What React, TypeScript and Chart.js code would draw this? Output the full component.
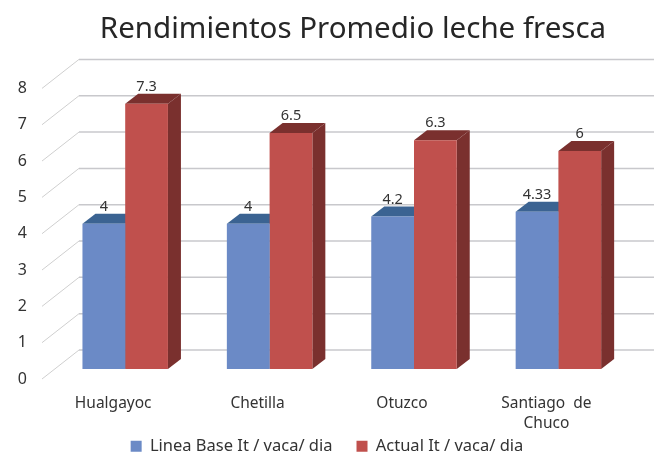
import React, { useEffect, useRef } from "react";
import { Chart, registerables } from "chart.js";

Chart.register(...registerables);

const categories: (string | string[])[] = ["Hualgayoc", "Chetilla", "Otuzco", ["Santiago  de", "Chuco"]];
const lineaBase = [4, 4, 4.2, 4.33];
const actual = [7.3, 6.5, 6.3, 6];
const seriesNames = ["Linea Base It / vaca/ dia", "Actual It / vaca/ dia"];
const title = "Rendimientos Promedio leche fresca";

const FONT = "'Noto Sans', sans-serif";
const TEXT = "#333333";
const FRONT = ["#6B8AC6", "#C0504D"];
const TOP = ["#3B6392", "#7A302E"];
const SIDE = ["#3B6392", "#7A302E"];
const GRID = "#C8C8CC";
const DIAG = "#CFCFCF";
const WALL_DX = 37;
const WALL_DY = 29;
const BAR_DX = 13;
const BAR_DY = 10;
const LEGEND_GAP = 24;

const poly = (ctx: CanvasRenderingContext2D, pts: number[][], fill: string) => {
  ctx.beginPath();
  pts.forEach(([x, y], i) => (i ? ctx.lineTo(x, y) : ctx.moveTo(x, y)));
  ctx.closePath();
  ctx.fillStyle = fill;
  ctx.fill();
};

const threeD = {
  id: "threeD",
  beforeLayout(chart: any) {
    const legend = chart.legend;
    if (!legend.__wrapped) {
      const fit = legend.fit;
      legend.fit = function () {
        fit.call(this);
        this.height = 18;
      };
      legend.__wrapped = true;
    }
  },
  afterLayout(chart: any) {
    chart.titleBlock.left = 52;
    chart.titleBlock.right = 654;
    chart.legend.top = 438 - LEGEND_GAP;
    chart.legend.left = 0;
    chart.legend.right = 654;
  },
  beforeDatasetsDraw(chart: any) {
    const { ctx, chartArea, scales } = chart;
    ctx.save();
    for (const t of scales.y.ticks) {
      const y = scales.y.getPixelForValue(t.value);
      const x0 = chartArea.left - 11;
      ctx.beginPath();
      ctx.moveTo(x0, y);
      ctx.lineTo(x0 + WALL_DX, y - WALL_DY);
      ctx.strokeStyle = DIAG;
      ctx.lineWidth = 1;
      ctx.stroke();
      ctx.beginPath();
      ctx.moveTo(x0 + WALL_DX, y - WALL_DY);
      ctx.lineTo(chart.width, y - WALL_DY);
      ctx.strokeStyle = GRID;
      ctx.lineWidth = 1.5;
      ctx.stroke();
    }
    chart.data.datasets.forEach((_: any, i: number) => {
      chart.getDatasetMeta(i).data.forEach((bar: any) => {
        const l = bar.x - bar.width / 2;
        const r = bar.x + bar.width / 2;
        const t = bar.y;
        const b = bar.base;
        poly(ctx, [[l, t], [r, t], [r + BAR_DX, t - BAR_DY], [l + BAR_DX, t - BAR_DY]], TOP[i]);
        poly(ctx, [[r, t], [r + BAR_DX, t - BAR_DY], [r + BAR_DX, b - BAR_DY], [r, b]], SIDE[i]);
      });
    });
    ctx.restore();
  },
  afterDatasetsDraw(chart: any) {
    const { ctx } = chart;
    ctx.save();
    ctx.font = `14.5px ${FONT}`;
    ctx.fillStyle = TEXT;
    ctx.textAlign = "center";
    ctx.textBaseline = "middle";
    chart.data.datasets.forEach((ds: any, i: number) => {
      chart.getDatasetMeta(i).data.forEach((bar: any, j: number) => {
        ctx.fillText(String(ds.data[j]), bar.x, bar.y - 17);
      });
    });
    ctx.restore();
  },
};

export default function App() {
  const ref = useRef<HTMLCanvasElement>(null);
  useEffect(() => {
    const chart = new Chart(ref.current!, {
      type: "bar",
      data: {
        labels: categories as any,
        datasets: [
          { label: seriesNames[0], data: lineaBase, backgroundColor: FRONT[0], yAxisID: "yBars", borderWidth: 0 },
          { label: seriesNames[1], data: actual, backgroundColor: FRONT[1], yAxisID: "yBars", borderWidth: 0 },
        ],
      },
      plugins: [threeD],
      options: {
        responsive: false,
        animation: false,
        layout: { padding: { left: 0, right: 23.4, top: 0, bottom: 0 } },
        datasets: { bar: { barPercentage: 1, categoryPercentage: 0.592 } },
        scales: {
          x: {
            grid: { display: false },
            border: { display: false },
            ticks: {
              font: { family: FONT, size: 15.5, lineHeight: 1.33 },
              color: TEXT,
              padding: 6,
              labelOffset: -12,
              maxRotation: 0,
              autoSkip: false,
            },
            afterFit(s: any) { s.height = 57; },
          },
          y: {
            min: 0,
            max: 8,
            grid: { display: false },
            border: { display: false },
            ticks: { stepSize: 1, font: { family: FONT, size: 16 }, color: TEXT, padding: 18 },
            afterFit(s: any) { s.width = 53; },
          },
          yBars: {
            display: false,
            min: -0.275,
            max: 7.725,
          },
        },
        plugins: {
          tooltip: { enabled: false },
          title: {
            display: true,
            text: title,
            color: "#262626",
            font: { family: FONT, size: 29.5, weight: "normal" },
            padding: { top: 12, bottom: 41 },
          },
          legend: {
            position: "bottom",
            labels: {
              boxWidth: 11,
              boxHeight: 11,
              font: { family: FONT, size: 16.5 },
              color: TEXT,
              padding: LEGEND_GAP,
            },
          },
        },
      },
    } as any);
    return () => chart.destroy();
  }, []);
  return (
    <div style={{ position: "fixed", left: 0, top: 0, width: 654, height: 454, background: "#fff" }}>
      <canvas ref={ref} width={654} height={454} style={{ display: "block" }} />
    </div>
  );
}
